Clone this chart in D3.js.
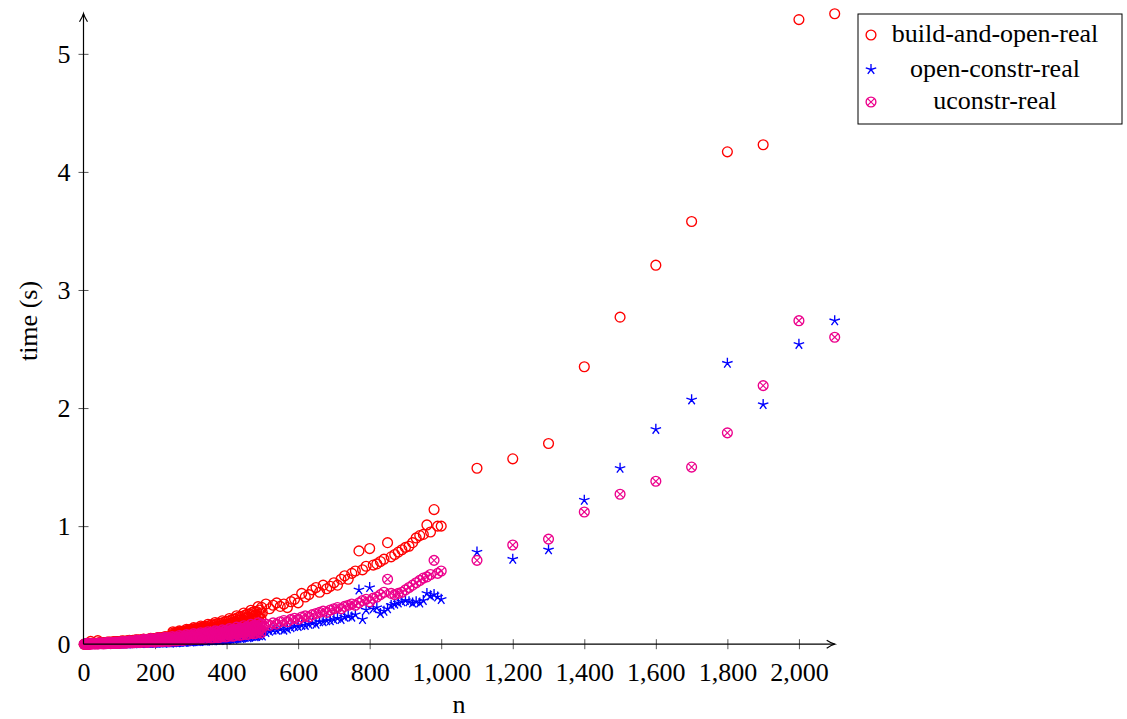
<!DOCTYPE html>
<html>
<head>
<meta charset="utf-8">
<script src="https://cdn.jsdelivr.net/npm/d3@7"></script>
<style>
  html, body { margin: 0; padding: 0; background: #fff; }
  svg { display: block; }
  text { font-family: "Liberation Serif", "Times New Roman", serif; fill: #000; }
</style>
</head>
<body>
<svg id="chart" width="1127" height="719"></svg>
<script>
// ---------------- DATA ----------------
const seriesNames = ["build-and-open-real", "open-constr-real", "uconstr-real"];
const xTicks = [0, 200, 400, 600, 800, 1000, 1200, 1400, 1600, 1800, 2000];
const yTicks = [0, 1, 2, 3, 4, 5];

// problem sizes n
const nDense = [
  2,4,6,8,10,12,14,16,18,20, 22,24,26,28,30,32,34,36,38,40, 42,44,46,48,50,52,54,56,58,60,
  62,64,66,68,70,72,74,76,78,80, 82,84,86,88,90,92,94,96,98,100, 102,104,106,108,110,112,114,116,118,120,
  122,124,126,128,130,132,134,136,138,140, 142,144,146,148,150,152,154,156,158,160, 162,164,166,168,170,172,174,176,178,180,
  182,184,186,188,190,192,194,196,198,200, 202,204,206,208,210,212,214,216,218,220, 222,224,226,228,230,232,234,236,238,240,
  242,244,246,248,250,252,254,256,258,260, 262,264,266,268,270,272,274,276,278,280, 282,284,286,288,290,292,294,296,298,300,
  302,304,306,308,310,312,314,316,318,320, 322,324,326,328,330,332,334,336,338,340, 342,344,346,348,350,352,354,356,358,360,
  362,364,366,368,370,372,374,376,378,380, 382,384,386,388,390,392,394,396,398,400, 402,404,406,408,410,412,414,416,418,420,
  422,424,426,428,430,432,434,436,438,440, 442,444,446,448,450,452,454,456,458,460, 462,464,466,468,470,472,474,476,478,480,
  482,484,486,488,490,492,494,496,498,500];
const nMid = [510,520,530,540,550,560,570,580,590,600,610,620,630,640,650,660,670,680,690,700,
  710,720,730,740,750,760,770,780,790,800,810,820,830,840,850,860,870,880,890,900,
  910,920,930,940,950,960,970,980,990,1000];
const nSparse = [1100,1200,1300,1400,1500,1600,1700,1800,1900,2000,2100];

// build-and-open-real (s)
const buildDense = [
  0.000,0.001,0.001,0.002,0.002,0.003,0.003,0.003,0.004,0.024,
  0.006,0.007,0.006,0.008,0.006,0.007,0.007,0.006,0.008,0.030,
  0.009,0.012,0.010,0.013,0.010,0.012,0.011,0.009,0.012,0.011,
  0.013,0.016,0.014,0.018,0.014,0.017,0.015,0.013,0.017,0.016,
  0.016,0.021,0.018,0.023,0.017,0.022,0.019,0.017,0.022,0.020,
  0.020,0.025,0.022,0.028,0.021,0.026,0.023,0.020,0.027,0.024,
  0.023,0.029,0.026,0.033,0.025,0.031,0.028,0.024,0.032,0.028,
  0.027,0.034,0.030,0.038,0.028,0.035,0.032,0.027,0.037,0.033,
  0.030,0.038,0.034,0.043,0.032,0.040,0.036,0.031,0.041,0.037,
  0.034,0.044,0.039,0.050,0.036,0.046,0.041,0.035,0.048,0.042,
  0.038,0.050,0.044,0.057,0.041,0.054,0.047,0.039,0.056,0.048,
  0.042,0.057,0.049,0.065,0.046,0.061,0.053,0.043,0.063,0.055,
  0.049,0.063,0.056,0.071,0.105,0.097,0.086,0.074,0.100,0.089,
  0.080,0.101,0.090,0.113,0.085,0.106,0.095,0.082,0.110,0.098,
  0.090,0.114,0.101,0.127,0.096,0.119,0.107,0.092,0.123,0.110,
  0.100,0.126,0.112,0.140,0.106,0.132,0.118,0.101,0.136,0.122,
  0.109,0.138,0.122,0.154,0.115,0.145,0.129,0.111,0.150,0.134,
  0.118,0.151,0.133,0.169,0.125,0.158,0.141,0.120,0.164,0.146,
  0.127,0.164,0.144,0.184,0.135,0.172,0.152,0.129,0.178,0.158,
  0.136,0.176,0.154,0.198,0.145,0.186,0.164,0.139,0.192,0.170,
  0.149,0.194,0.170,0.218,0.159,0.204,0.180,0.152,0.211,0.187,
  0.165,0.214,0.188,0.241,0.176,0.226,0.199,0.169,0.233,0.207,
  0.181,0.235,0.206,0.264,0.193,0.247,0.218,0.185,0.255,0.226,
  0.197,0.255,0.224,0.287,0.210,0.269,0.237,0.201,0.278,0.246,
  0.213,0.276,0.242,0.318,0.227,0.290,0.256,0.218,0.312,0.266];
const buildMid = [0.34,0.30,0.33,0.35,0.32,0.34,0.31,0.36,0.38,0.35,
  0.43,0.40,0.42,0.46,0.48,0.44,0.50,0.47,0.49,0.52,
  0.50,0.55,0.58,0.55,0.60,0.62,0.79,0.63,0.66,0.81,
  0.67,0.68,0.70,0.72,0.86,0.74,0.76,0.78,0.80,0.82,
  0.83,0.86,0.90,0.92,0.93,1.01,0.95,1.14,1.00,1.00];
const buildSparse = [1.49,1.57,1.70,2.35,2.77,3.21,3.58,4.17,4.23,5.29,5.34];

// open-constr-real (s)
const openDense = [
  0.001,0.000,0.001,0.001,0.002,0.001,0.001,0.001,0.002,0.000,
  0.002,0.001,0.002,0.001,0.003,0.001,0.002,0.002,0.003,0.001,
  0.003,0.002,0.003,0.002,0.004,0.002,0.003,0.002,0.003,0.002,
  0.003,0.002,0.004,0.003,0.005,0.003,0.004,0.003,0.004,0.002,
  0.004,0.003,0.005,0.004,0.006,0.003,0.005,0.004,0.005,0.003,
  0.006,0.004,0.007,0.005,0.007,0.004,0.006,0.005,0.007,0.004,
  0.007,0.005,0.009,0.006,0.010,0.006,0.008,0.007,0.010,0.005,
  0.009,0.006,0.012,0.008,0.013,0.007,0.011,0.009,0.012,0.007,
  0.011,0.007,0.014,0.010,0.015,0.009,0.013,0.010,0.015,0.008,
  0.013,0.009,0.016,0.011,0.018,0.010,0.015,0.012,0.017,0.009,
  0.015,0.010,0.019,0.013,0.020,0.011,0.017,0.014,0.020,0.011,
  0.017,0.011,0.021,0.014,0.023,0.013,0.019,0.016,0.022,0.012,
  0.019,0.012,0.023,0.016,0.025,0.014,0.021,0.017,0.025,0.013,
  0.023,0.015,0.028,0.020,0.030,0.017,0.025,0.021,0.029,0.017,
  0.026,0.018,0.032,0.023,0.035,0.021,0.030,0.025,0.034,0.020,
  0.030,0.021,0.036,0.027,0.039,0.024,0.034,0.028,0.038,0.023,
  0.034,0.024,0.041,0.030,0.044,0.027,0.038,0.032,0.043,0.026,
  0.038,0.028,0.045,0.034,0.049,0.031,0.042,0.036,0.048,0.030,
  0.042,0.031,0.050,0.037,0.053,0.034,0.046,0.040,0.052,0.033,
  0.046,0.034,0.054,0.041,0.058,0.037,0.051,0.043,0.057,0.036,
  0.052,0.039,0.061,0.047,0.065,0.043,0.057,0.049,0.064,0.042,
  0.060,0.046,0.070,0.054,0.074,0.050,0.066,0.057,0.073,0.049,
  0.068,0.053,0.078,0.062,0.083,0.057,0.074,0.065,0.082,0.056,
  0.076,0.060,0.087,0.070,0.092,0.065,0.082,0.073,0.090,0.063,
  0.084,0.067,0.096,0.077,0.101,0.072,0.091,0.081,0.099,0.070];
const openMid = [0.10,0.11,0.12,0.12,0.13,0.12,0.13,0.14,0.15,0.15,
  0.16,0.16,0.17,0.18,0.17,0.19,0.19,0.20,0.20,0.21,
  0.22,0.21,0.23,0.24,0.23,0.25,0.46,0.21,0.29,0.48,
  0.30,0.31,0.26,0.28,0.30,0.33,0.34,0.35,0.36,0.37,
  0.36,0.35,0.36,0.35,0.37,0.43,0.41,0.42,0.40,0.38];
const openSparse = [0.78,0.72,0.80,1.22,1.49,1.82,2.07,2.38,2.03,2.54,2.74];

// uconstr-real (s)
const uconDense = [
  0.001,0.003,0.002,0.004,0.001,0.003,0.002,0.001,0.004,0.002,
  0.002,0.006,0.004,0.008,0.003,0.006,0.004,0.002,0.007,0.005,
  0.003,0.008,0.006,0.011,0.004,0.010,0.007,0.003,0.010,0.008,
  0.004,0.011,0.008,0.015,0.006,0.013,0.009,0.005,0.014,0.010,
  0.006,0.014,0.009,0.018,0.007,0.016,0.011,0.006,0.017,0.013,
  0.007,0.018,0.012,0.023,0.010,0.020,0.015,0.008,0.022,0.016,
  0.010,0.023,0.016,0.029,0.013,0.025,0.019,0.011,0.027,0.021,
  0.013,0.027,0.019,0.035,0.016,0.031,0.023,0.014,0.033,0.025,
  0.015,0.032,0.023,0.041,0.019,0.036,0.027,0.016,0.039,0.029,
  0.018,0.037,0.027,0.047,0.022,0.041,0.031,0.019,0.044,0.034,
  0.020,0.042,0.030,0.053,0.025,0.047,0.035,0.022,0.050,0.038,
  0.023,0.046,0.034,0.059,0.028,0.052,0.039,0.024,0.056,0.043,
  0.025,0.051,0.037,0.065,0.031,0.057,0.043,0.027,0.061,0.047,
  0.030,0.058,0.043,0.073,0.036,0.065,0.049,0.032,0.069,0.054,
  0.035,0.065,0.049,0.081,0.042,0.072,0.056,0.037,0.077,0.060,
  0.039,0.072,0.054,0.089,0.047,0.079,0.062,0.042,0.084,0.067,
  0.044,0.079,0.060,0.097,0.052,0.087,0.068,0.047,0.092,0.073,
  0.049,0.086,0.066,0.105,0.057,0.094,0.074,0.051,0.100,0.080,
  0.053,0.092,0.071,0.113,0.062,0.101,0.080,0.056,0.107,0.086,
  0.058,0.099,0.077,0.121,0.067,0.109,0.086,0.061,0.115,0.093,
  0.064,0.108,0.084,0.132,0.074,0.118,0.094,0.067,0.125,0.101,
  0.071,0.118,0.093,0.144,0.082,0.129,0.104,0.075,0.136,0.111,
  0.078,0.128,0.101,0.156,0.090,0.140,0.113,0.082,0.148,0.121,
  0.085,0.139,0.110,0.168,0.097,0.151,0.122,0.089,0.159,0.130,
  0.092,0.149,0.118,0.180,0.105,0.162,0.131,0.096,0.171,0.140];
const uconMid = [0.17,0.16,0.18,0.17,0.19,0.20,0.19,0.21,0.22,0.21,
  0.23,0.24,0.23,0.25,0.26,0.27,0.28,0.27,0.29,0.30,
  0.31,0.30,0.32,0.33,0.34,0.33,0.35,0.37,0.38,0.36,
  0.39,0.40,0.42,0.44,0.55,0.43,0.42,0.43,0.44,0.46,
  0.48,0.50,0.52,0.54,0.56,0.57,0.59,0.71,0.60,0.62];
const uconSparse = [0.71,0.84,0.89,1.12,1.27,1.38,1.50,1.79,2.19,2.74,2.60];

const nAll = nDense.concat(nMid, nSparse);
const seriesValues = [
  buildDense.concat(buildMid, buildSparse),
  openDense.concat(openMid, openSparse),
  uconDense.concat(uconMid, uconSparse)
];

// ---------------- STYLE ----------------
const colors = ["#ff0000", "#0000ff", "#ec008c"];
const markers = ["circle", "star", "otimes"];
const FONT = 26;
const SW = 1.35;

const svg = d3.select("#chart");
const x = d3.scaleLinear().domain([0, 2100]).range([83.5, 834.7]);
const y = d3.scaleLinear().domain([0, 5.34]).range([644.2, 13.7]);

function drawMarker(g, type, color) {
  if (type === "circle") {
    g.append("circle").attr("r", 4.9).attr("fill", "none")
      .attr("stroke", color).attr("stroke-width", SW);
  } else if (type === "star") {
    const p = d3.path();
    const R = 5.5;
    for (let k = 0; k < 5; k++) {
      const a = -Math.PI / 2 + k * 2 * Math.PI / 5;
      p.moveTo(0, 0);
      p.lineTo(R * Math.cos(a), R * Math.sin(a));
    }
    g.append("path").attr("d", p.toString()).attr("fill", "none")
      .attr("stroke", color).attr("stroke-width", SW);
  } else {
    const r = 4.9, d = r * Math.SQRT1_2;
    g.append("circle").attr("r", r).attr("fill", "none")
      .attr("stroke", color).attr("stroke-width", SW);
    g.append("path").attr("d", `M${-d},${-d}L${d},${d}M${-d},${d}L${d},${-d}`)
      .attr("fill", "none").attr("stroke", color).attr("stroke-width", SW * 0.85);
  }
}

// ---------------- AXES ----------------
const xAxis = d3.axisBottom(x).tickValues(xTicks).tickFormat(d3.format(","))
  .tickSize(5).tickSizeOuter(0);
const gx = svg.append("g").attr("transform", `translate(0,${y(0)})`).call(xAxis);
gx.attr("font-family", null).attr("font-size", null);
gx.select(".domain").remove();
gx.selectAll(".tick line").attr("y1", -5).attr("y2", 5).attr("stroke", "#444").attr("stroke-width", 0.9);
gx.selectAll(".tick text").attr("y", 18).attr("font-size", FONT).attr("fill", "#000");

const yAxis = d3.axisLeft(y).tickValues(yTicks).tickFormat(d3.format("d"))
  .tickSize(5).tickSizeOuter(0);
const gy = svg.append("g").attr("transform", `translate(${x(0)},0)`).call(yAxis);
gy.attr("font-family", null).attr("font-size", null);
gy.select(".domain").remove();
gy.selectAll(".tick line").attr("x1", -5).attr("x2", 5).attr("stroke", "#444").attr("stroke-width", 0.9);
gy.selectAll(".tick text").attr("x", -13).attr("font-size", FONT).attr("fill", "#000");

// ---------------- POINTS ----------------
const plot = svg.append("g");
seriesValues.forEach((vals, si) => {
  const pts = nAll.map((n, i) => ({ n: n, v: vals[i] }));
  plot.append("g").selectAll("g").data(pts).join("g")
    .attr("transform", d => `translate(${x(d.n)},${y(d.v)})`)
    .each(function () { drawMarker(d3.select(this), markers[si], colors[si]); });
});

// axis lines with arrow tips
const x0 = x(0), x1 = x.range()[1], y0 = y(0), y1 = y.range()[1];
svg.append("line").attr("x1", x0).attr("x2", x1).attr("y1", y0).attr("y2", y0)
  .attr("stroke", "#000").attr("stroke-width", 1.2);
svg.append("line").attr("x1", x0).attr("x2", x0).attr("y1", y0).attr("y2", y1)
  .attr("stroke", "#000").attr("stroke-width", 1.2);
svg.append("path")
  .attr("d", `M${x1 - 8},${y0 - 4} Q${x1 - 3},${y0 - 0.8} ${x1},${y0} Q${x1 - 3},${y0 + 0.8} ${x1 - 8},${y0 + 4}`)
  .attr("fill", "none").attr("stroke", "#000").attr("stroke-width", 1.2);
svg.append("path")
  .attr("d", `M${x0 - 4},${y1 + 8} Q${x0 - 0.8},${y1 + 3} ${x0},${y1} Q${x0 + 0.8},${y1 + 3} ${x0 + 4},${y1 + 8}`)
  .attr("fill", "none").attr("stroke", "#000").attr("stroke-width", 1.2);

// axis labels
svg.append("text").attr("x", 459).attr("y", 713).attr("text-anchor", "middle")
  .attr("font-size", FONT).text("n");
svg.append("text").attr("transform", "translate(28,321) rotate(-90)")
  .attr("text-anchor", "middle").attr("dy", "0.35em").attr("font-size", FONT).text("time (s)");

// ---------------- LEGEND ----------------
const leg = svg.append("g");
leg.append("rect").attr("x", 858).attr("y", 14).attr("width", 264).attr("height", 110)
  .attr("fill", "#fff").attr("stroke", "#000").attr("stroke-width", 1);
const rowY = [35, 69.5, 102];
seriesNames.forEach((name, i) => {
  const g = leg.append("g").attr("transform", `translate(871,${rowY[i]})`);
  drawMarker(g, markers[i], colors[i]);
  leg.append("text").attr("x", 995).attr("y", rowY[i] + 7).attr("text-anchor", "middle")
    .attr("font-size", FONT).text(name);
});
</script>
</body>
</html>
